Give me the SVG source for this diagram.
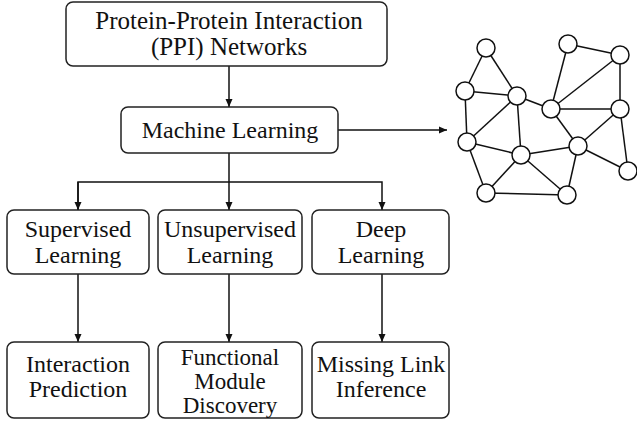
<svg xmlns="http://www.w3.org/2000/svg" width="637" height="425" viewBox="0 0 637 425">
<defs>
<marker id="ah" markerWidth="10" markerHeight="10" refX="9" refY="5" orient="auto" markerUnits="userSpaceOnUse">
<path d="M1,1.5 L9,5 L1,8.5 Z" fill="#111"/>
</marker>
<style>
.box{fill:#fff;stroke:#222;stroke-width:1.5}
.t{font-family:"Liberation Serif","Times New Roman",serif;font-size:24px;fill:#111;text-anchor:middle}
.big{font-size:25px}
.sm{font-size:23px}
.c{stroke:#111;stroke-width:1.5;fill:none}
.e{stroke:#111;stroke-width:1.5}
.n{fill:#fff;stroke:#111;stroke-width:1.5}
</style>
</defs>
<rect width="637" height="425" fill="#fff"/>
<g id="connectors">
<line class="c" x1="229" y1="66" x2="229" y2="107" marker-end="url(#ah)"/>
<line class="c" x1="338" y1="130" x2="447" y2="130" marker-end="url(#ah)"/>
<polyline class="c" points="229,153 229,182"/>
<polyline class="c" points="78,210 78,182 382,182 382,210" marker-end="url(#ah)"/>
<line class="c" x1="229" y1="182" x2="229" y2="210" marker-end="url(#ah)"/>
<line class="c" x1="78" y1="182" x2="78" y2="210" marker-end="url(#ah)"/>
<line class="c" x1="78" y1="274" x2="78" y2="342" marker-end="url(#ah)"/>
<line class="c" x1="229" y1="274" x2="229" y2="342" marker-end="url(#ah)"/>
<line class="c" x1="382" y1="274" x2="382" y2="342" marker-end="url(#ah)"/>
</g>
<g id="ppi">
<rect class="box" x="66" y="2" width="321" height="64" rx="7"/>
<text class="t big" x="229" y="29">Protein-Protein Interaction</text>
<text class="t big" x="229" y="55">(PPI) Networks</text>
</g>
<g id="ml">
<rect class="box" x="121" y="107" width="217" height="46" rx="7"/>
<text class="t" x="230" y="138">Machine Learning</text>
</g>
<g id="supervised">
<rect class="box" x="7" y="210" width="142" height="64" rx="7"/>
<text class="t" x="78" y="237">Supervised</text>
<text class="t" x="78" y="263">Learning</text>
</g>
<g id="unsupervised">
<rect class="box" x="158" y="210" width="144" height="64" rx="7"/>
<text class="t" x="230" y="237">Unsupervised</text>
<text class="t" x="230" y="263">Learning</text>
</g>
<g id="deep">
<rect class="box" x="312" y="210" width="137" height="64" rx="7"/>
<text class="t" x="381" y="237">Deep</text>
<text class="t" x="381" y="263">Learning</text>
</g>
<g id="interaction">
<rect class="box" x="7" y="342" width="142" height="76" rx="7"/>
<text class="t" x="78" y="372">Interaction</text>
<text class="t" x="78" y="397">Prediction</text>
</g>
<g id="functional">
<rect class="box" x="158" y="342" width="144" height="76" rx="7"/>
<text class="t sm" x="230" y="365">Functional</text>
<text class="t sm" x="230" y="389">Module</text>
<text class="t sm" x="230" y="413">Discovery</text>
</g>
<g id="missing">
<rect class="box" x="312" y="342" width="137" height="76" rx="7"/>
<text class="t" x="381" y="372">Missing Link</text>
<text class="t" x="381" y="397">Inference</text>
</g>
<g id="network">
<g class="e">
<line x1="486" y1="48" x2="465" y2="91"/>
<line x1="486" y1="48" x2="517" y2="96"/>
<line x1="465" y1="91" x2="517" y2="96"/>
<line x1="465" y1="91" x2="467" y2="142"/>
<line x1="517" y1="96" x2="467" y2="142"/>
<line x1="517" y1="96" x2="521" y2="155"/>
<line x1="517" y1="96" x2="551" y2="109"/>
<line x1="568" y1="44" x2="551" y2="109"/>
<line x1="568" y1="44" x2="620" y2="55"/>
<line x1="620" y1="55" x2="551" y2="109"/>
<line x1="551" y1="109" x2="620" y2="109"/>
<line x1="620" y1="55" x2="620" y2="109"/>
<line x1="551" y1="109" x2="578" y2="146"/>
<line x1="620" y1="109" x2="578" y2="146"/>
<line x1="620" y1="109" x2="628" y2="171"/>
<line x1="578" y1="146" x2="628" y2="171"/>
<line x1="467" y1="142" x2="521" y2="155"/>
<line x1="467" y1="142" x2="486" y2="193"/>
<line x1="521" y1="155" x2="486" y2="193"/>
<line x1="521" y1="155" x2="578" y2="146"/>
<line x1="521" y1="155" x2="567" y2="195"/>
<line x1="486" y1="193" x2="567" y2="195"/>
<line x1="578" y1="146" x2="567" y2="195"/>
</g>
<g class="n">
<circle cx="486" cy="48" r="9"/>
<circle cx="568" cy="44" r="9"/>
<circle cx="620" cy="55" r="9"/>
<circle cx="465" cy="91" r="9"/>
<circle cx="517" cy="96" r="9"/>
<circle cx="551" cy="109" r="9"/>
<circle cx="620" cy="109" r="9"/>
<circle cx="467" cy="142" r="9"/>
<circle cx="521" cy="155" r="9"/>
<circle cx="578" cy="146" r="9"/>
<circle cx="628" cy="171" r="9"/>
<circle cx="486" cy="193" r="9"/>
<circle cx="567" cy="195" r="9"/>
</g>
</g>
</svg>
